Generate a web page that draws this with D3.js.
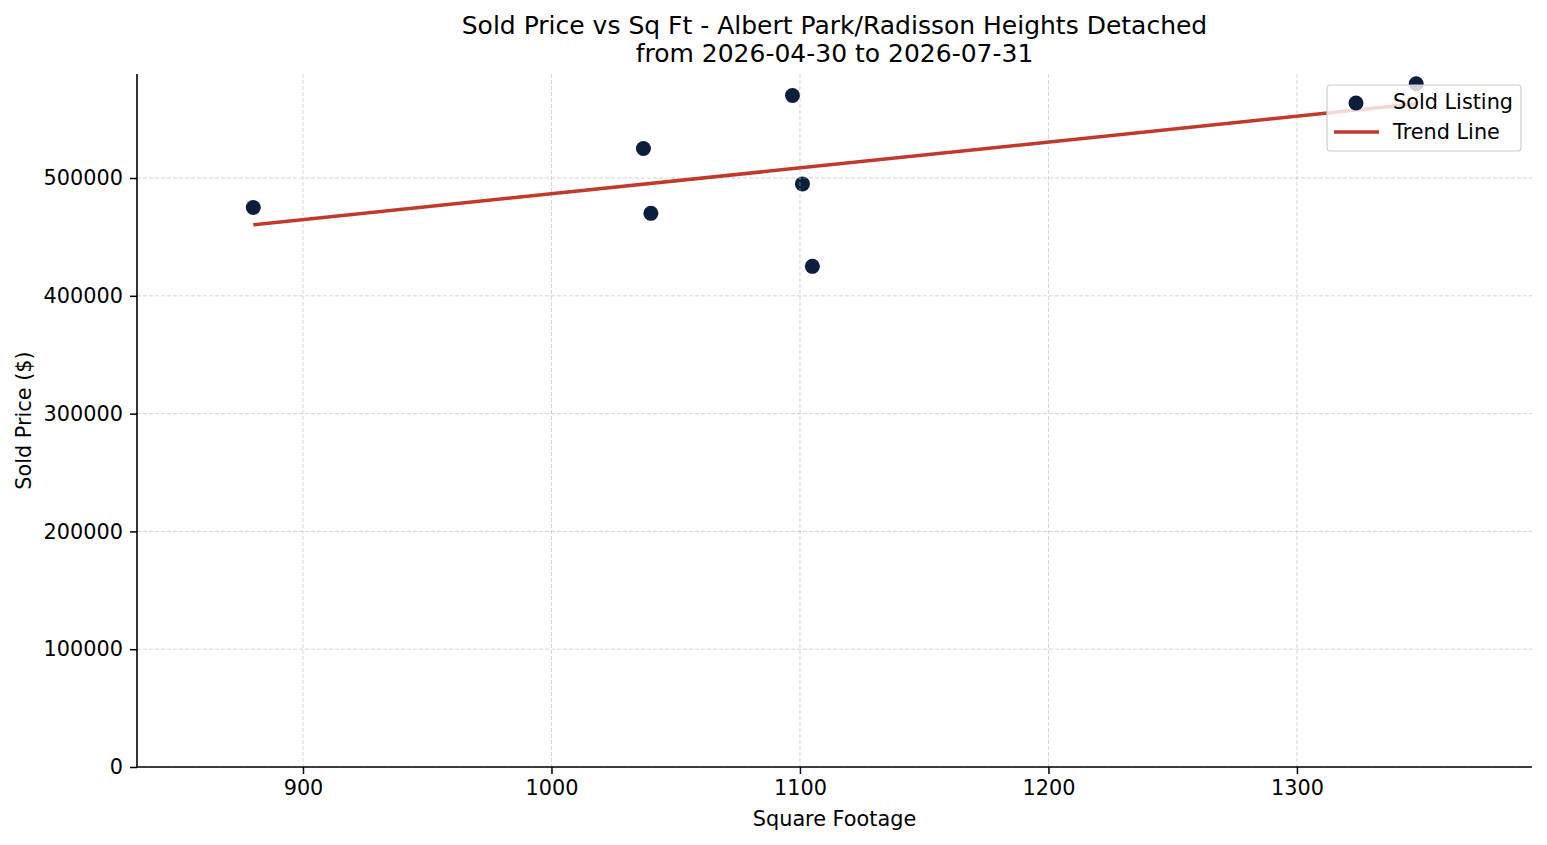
<!DOCTYPE html>
<html>
<head>
<meta charset="utf-8">
<script src="https://cdn.jsdelivr.net/npm/d3@7"></script>
<style>
  html, body { margin: 0; padding: 0; background: #fff; }
  svg { display: block; font-family: "DejaVu Sans", sans-serif; }
</style>
</head>
<body>
<script>
const sqft = [880, 1037, 1040, 1097, 1101, 1105, 1348];
const soldPrice = [475000, 525000, 470000, 570000, 495000, 425000, 580000];
const xTicks = [900, 1000, 1100, 1200, 1300];
const yTicks = [0, 100000, 200000, 300000, 400000, 500000];
const titleLines = ["Sold Price vs Sq Ft - Albert Park/Radisson Heights Detached", "from 2026-04-30 to 2026-07-31"];

const W = 1547, H = 845;
const FS = 20.8, TFS = 25;
const m = { left: 137, right: W - 1532, top: 74, bottom: H - 767 };
const svg = d3.select("body").append("svg").attr("width", W).attr("height", H);

const x = d3.scaleLinear().domain([833.2, 1394.6]).range([m.left, W - m.right]);
const y = d3.scaleLinear().domain([0, 588300]).range([H - m.bottom, m.top]);

// points (below grid, as in the reference)
svg.append("g").selectAll("circle").data(sqft.map((d, i) => [d, soldPrice[i]])).join("circle")
  .attr("cx", d => x(d[0])).attr("cy", d => y(d[1])).attr("r", 7.5)
  .attr("fill", "#0b1f3d");

// grid
const grid = svg.append("g");
grid.selectAll("line.gx").data(xTicks).join("line")
  .attr("x1", d => x(d)).attr("x2", d => x(d))
  .attr("y1", m.top).attr("y2", H - m.bottom)
  .attr("stroke", "#b0b0b0").attr("stroke-opacity", 0.55).attr("stroke-width", 1)
  .attr("stroke-dasharray", "4,2");
grid.selectAll("line.gy").data(yTicks).join("line")
  .attr("y1", d => y(d)).attr("y2", d => y(d))
  .attr("x1", m.left).attr("x2", W - m.right)
  .attr("stroke", "#b0b0b0").attr("stroke-opacity", 0.55).attr("stroke-width", 1)
  .attr("stroke-dasharray", "4,2");

// regression trend line (least squares fit of the data)
const n = sqft.length;
const mx = d3.mean(sqft), my = d3.mean(soldPrice);
let sxy = 0, sxx = 0;
for (let i = 0; i < n; i++) { sxy += (sqft[i] - mx) * (soldPrice[i] - my); sxx += (sqft[i] - mx) ** 2; }
const slope = sxy / sxx, icpt = my - slope * mx;
const xr = d3.extent(sqft);

svg.append("line")
  .attr("x1", x(xr[0])).attr("y1", y(icpt + slope * xr[0]))
  .attr("x2", x(xr[1])).attr("y2", y(icpt + slope * xr[1]))
  .attr("stroke", "#c0392b").attr("stroke-width", 3.5);

// axes
const xAxis = svg.append("g").attr("transform", `translate(0,${H - m.bottom})`)
  .call(d3.axisBottom(x).tickValues(xTicks).tickSize(7).tickPadding(6).tickFormat(d3.format("d")));
const yAxis = svg.append("g").attr("transform", `translate(${m.left},0)`)
  .call(d3.axisLeft(y).tickValues(yTicks).tickSize(7).tickPadding(7).tickFormat(d3.format("d")));
[xAxis, yAxis].forEach(a => {
  a.attr("font-size", null).attr("font-family", null);
  a.selectAll("text").style("font-size", FS + "px").attr("fill", "#000").style("font-family", "DejaVu Sans");
  a.selectAll("line").attr("stroke", "#000").attr("stroke-width", 1.5);
  a.select(".domain").attr("stroke", "#000").attr("stroke-width", 1.6);
});
xAxis.select(".domain").attr("d", `M${m.left},0H${W - m.right}`);
yAxis.select(".domain").attr("d", `M0,${H - m.bottom}V${m.top}`);

// labels
svg.append("text").attr("x", (m.left + W - m.right) / 2).attr("y", 826)
  .attr("text-anchor", "middle").style("font-size", FS + "px").text("Square Footage");
svg.append("text").attr("transform", `translate(31,${(m.top + H - m.bottom) / 2}) rotate(-90)`)
  .attr("text-anchor", "middle").style("font-size", FS + "px").text("Sold Price ($)");
svg.append("g").selectAll("text").data(titleLines).join("text")
  .attr("x", (m.left + W - m.right) / 2).attr("y", (d, i) => 34 + i * 28)
  .attr("text-anchor", "middle").style("font-size", TFS + "px").text(d => d);

// legend
const lg = svg.append("g").attr("transform", "translate(1327,85)");
lg.append("rect").attr("width", 194).attr("height", 66).attr("rx", 3)
  .attr("fill", "#fff").attr("fill-opacity", 0.8).attr("stroke", "#cccccc").attr("stroke-width", 1.2);
lg.append("circle").attr("cx", 29).attr("cy", 18).attr("r", 7.5).attr("fill", "#0b1f3d");
lg.append("line").attr("x1", 7).attr("x2", 52).attr("y1", 47).attr("y2", 47)
  .attr("stroke", "#c0392b").attr("stroke-width", 3.5);
lg.append("text").attr("x", 66).attr("y", 24).style("font-size", FS + "px").text("Sold Listing");
lg.append("text").attr("x", 66).attr("y", 54).style("font-size", FS + "px").text("Trend Line");
</script>
</body>
</html>
